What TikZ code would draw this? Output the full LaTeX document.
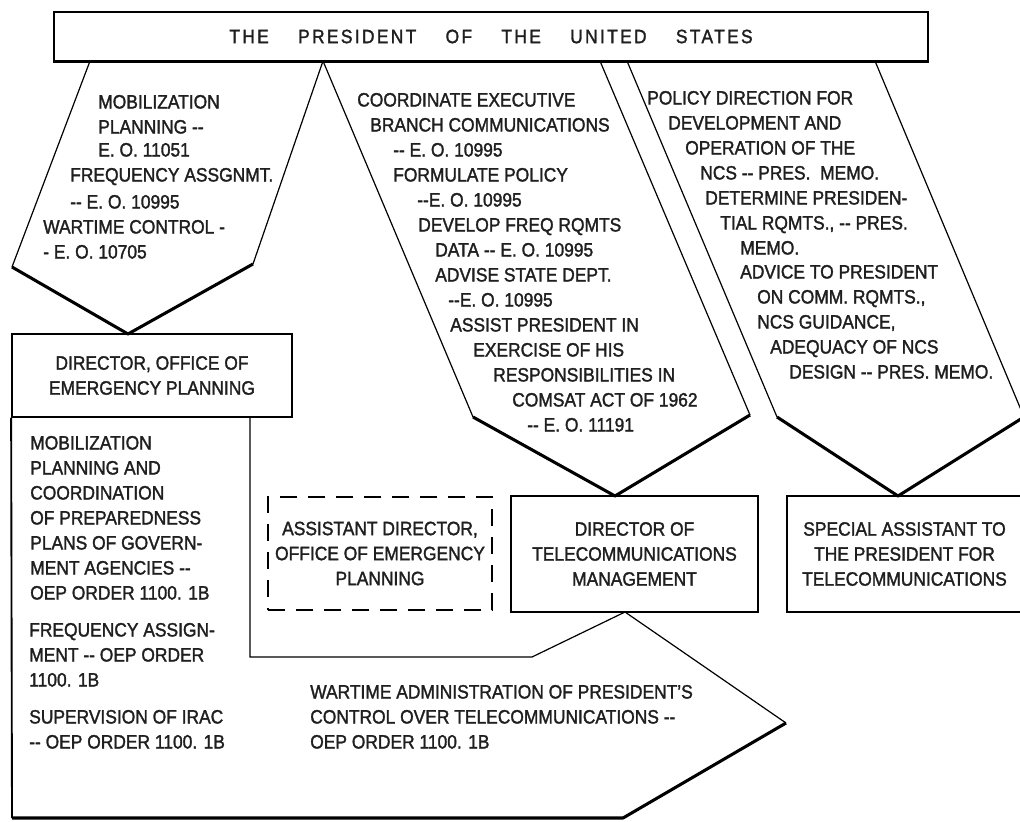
\documentclass[tikz,border=0pt]{standalone}
\usepackage{fontspec}
\setmainfont{Liberation Sans}[FakeStretch=0.9,FakeBold=1.6]
\newcommand\dd{-{}-}
\begin{document}
\begin{tikzpicture}[x=0.75pt,y=-0.75pt,
  txtfont/.style={font=\fontsize{14.5}{18.75}\selectfont},
  txt/.style={txtfont,inner sep=0pt,anchor=base west,text=black!88},
  boxnode/.style={draw,line width=1.3pt,txtfont,align=center,text=black!88,inner sep=0pt},
  thinline/.style={line width=0.9pt},
  medline/.style={line width=1.4pt},
  heavyline/.style={line width=2.3pt,line join=round},
]
\useasboundingbox (0,0) rectangle (1020,821);
\newcommand\TL[4]{\node[txt] (#1) at (#2,#3+6.5) {#4};}

% title bar
\node[draw,line width=1.3pt,minimum width=655.5pt,minimum height=36.75pt,inner sep=0pt,
  font=\fontsize{14.5}{18}\selectfont\addfontfeature{LetterSpace=12},text=black!88]
  (bar) at (491,36.5) {THE\hspace{22pt}PRESIDENT\hspace{22pt}OF\hspace{22pt}THE\hspace{22pt}UNITED\hspace{22pt}STATES};
\draw[heavyline] (bar.south west) -- (bar.south east);

% boxes
\node[boxnode,minimum width=210pt,minimum height=62.25pt] (oep) at (152,375.5)
  {DIRECTOR, OFFICE OF\\EMERGENCY PLANNING};
\node[boxnode,dash pattern=on 13pt off 8pt,minimum width=168pt,minimum height=84.75pt] (asst) at (380,553.5)
  {ASSISTANT DIRECTOR,\\OFFICE OF EMERGENCY\\PLANNING};
\node[boxnode,minimum width=185.25pt,minimum height=87pt] (dtm) at (634.5,554)
  {DIRECTOR OF\\TELECOMMUNICATIONS\\MANAGEMENT};
\node[boxnode,minimum width=176.25pt,minimum height=87pt] (spec) at (904.5,554)
  {SPECIAL ASSISTANT TO\\THE PRESIDENT FOR\\TELECOMMUNICATIONS};

% left pentagon
\coordinate (lpTL) at (90,61);
\coordinate (lpTR) at (323,61);
\coordinate (lpL) at (12,267);
\coordinate (lpR) at (253,264);
\coordinate (lpA) at (128,334);
\draw[thinline] (lpTL) -- (lpL);
\draw[thinline] (lpTR) -- (lpR);
\draw[heavyline] (lpL) -- (lpA) -- (lpR);

% middle pentagon
\coordinate (mpTL) at (323,61);
\coordinate (mpTR) at (600,61);
\coordinate (mpL) at (473,417);
\coordinate (mpR) at (750,415);
\coordinate (mpA) at (615,496);
\draw[thinline] (mpTL) -- (mpL);
\draw[thinline] (mpTR) -- (mpR);
\draw[heavyline] (mpL) -- (mpA) -- (mpR);

% right pentagon
\coordinate (rpTL) at (627,61);
\coordinate (rpTR) at (875,61);
\coordinate (rpL) at (777,417);
\coordinate (rpR) at (1024,417);
\coordinate (rpA) at (898,496);
\draw[thinline] (rpTL) -- (rpL);
\draw[thinline] (rpTR) -- (rpR);
\draw[heavyline] (rpL) -- (rpA) -- (rpR);

% lower L-shaped region
\coordinate (lr1) at (250,417);
\coordinate (lr2) at (250,657);
\coordinate (lr3) at (532,657);
\coordinate (lr4) at (625,612);
\coordinate (lr5) at (786,723);
\coordinate (lr6) at (623,818);
\coordinate (lr7) at (12,818);
\draw[medline] (oep.south west) -- (lr7);
\draw[thinline] (lr1) -- (lr2) -- (lr3) -- (lr4) -- (lr5);
\draw[heavyline] (lr5) -- (lr6) -- (lr7);

% left pentagon text
\TL{la1}{98}{102}{MOBILIZATION}
\TL{la2}{98}{127}{PLANNING \dd}
\TL{la3}{98}{150}{E. O. 11051}
\TL{la4}{70}{175}{FREQUENCY ASSGNMT.}
\TL{la5}{70}{202}{\dd\ E. O. 10995}
\TL{la6}{43}{227}{WARTIME CONTROL -}
\TL{la7}{43}{252}{- E. O. 10705}

% middle pentagon text
\TL{ma1}{357}{100}{COORDINATE EXECUTIVE}
\TL{ma2}{370}{125}{BRANCH COMMUNICATIONS}
\TL{ma3}{393}{150}{\dd\ E. O. 10995}
\TL{ma4}{393}{175}{FORMULATE POLICY}
\TL{ma5}{417}{200}{\dd E. O. 10995}
\TL{ma6}{418}{225}{DEVELOP FREQ RQMTS}
\TL{ma7}{435}{250}{DATA \dd\ E. O. 10995}
\TL{ma8}{435}{275}{ADVISE STATE DEPT.}
\TL{ma9}{448}{300}{\dd E. O. 10995}
\TL{ma10}{450}{325}{ASSIST PRESIDENT IN}
\TL{ma11}{473}{350}{EXERCISE OF HIS}
\TL{ma12}{493}{375}{RESPONSIBILITIES IN}
\TL{ma13}{512}{400}{COMSAT ACT OF 1962}
\TL{ma14}{527}{425}{\dd\ E. O. 11191}

% right pentagon text
\TL{ra1}{647}{98}{POLICY DIRECTION FOR}
\TL{ra2}{668}{123}{DEVELOPMENT AND}
\TL{ra3}{685}{148}{OPERATION OF THE}
\TL{ra4}{700}{173}{NCS \dd\ PRES.\ \ MEMO.}
\TL{ra5}{705}{198}{DETERMINE PRESIDEN-}
\TL{ra6}{720}{223}{TIAL RQMTS., \dd\ PRES.}
\TL{ra7}{740}{248}{MEMO.}
\TL{ra8}{740}{272}{ADVICE TO PRESIDENT}
\TL{ra9}{757}{297}{ON COMM. RQMTS.,}
\TL{ra10}{757}{322}{NCS GUIDANCE,}
\TL{ra11}{770}{347}{ADEQUACY OF NCS}
\TL{ra12}{789}{372}{DESIGN \dd\ PRES. MEMO.}

% lower left text
\TL{lb1}{30}{443}{MOBILIZATION}
\TL{lb2}{30}{468}{PLANNING AND}
\TL{lb3}{30}{493}{COORDINATION}
\TL{lb4}{30}{518}{OF PREPAREDNESS}
\TL{lb5}{30}{543}{PLANS OF GOVERN-}
\TL{lb6}{30}{568}{MENT AGENCIES \dd}
\TL{lb7}{30}{593}{OEP ORDER 1100. 1B}
\TL{lb8}{29}{630}{FREQUENCY ASSIGN-}
\TL{lb9}{29}{655}{MENT \dd\ OEP ORDER}
\TL{lb10}{29}{680}{1100. 1B}
\TL{lb11}{29}{717}{SUPERVISION OF IRAC}
\TL{lb12}{29}{742}{\dd\ OEP ORDER 1100. 1B}

% bottom text
\TL{bt1}{310}{692}{WARTIME ADMINISTRATION OF PRESIDENT'S}
\TL{bt2}{310}{717}{CONTROL OVER TELECOMMUNICATIONS \dd}
\TL{bt3}{310}{742}{OEP ORDER 1100. 1B}
\end{tikzpicture}
\end{document}
